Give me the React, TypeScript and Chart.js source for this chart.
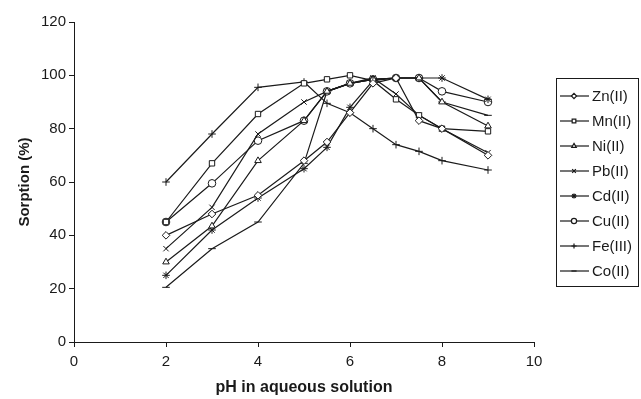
import { useEffect, useRef } from 'react';
import { Chart, registerables } from 'chart.js';
import { drawPoint } from 'chart.js/helpers';
Chart.register(...registerables);

const pH = [2, 3, 4, 5, 5.5, 6, 6.5, 7, 7.5, 8, 9];
const seriesNames = ['Zn(II)', 'Mn(II)', 'Ni(II)', 'Pb(II)', 'Cd(II)', 'Cu(II)', 'Fe(III)', 'Co(II)'];
const znValues = [40, 48, 55, 68, 75, 86, 97, 99, 83, 80, 70];
const mnValues = [45, 67, 85.5, 97, 98.5, 100, 98, 91, 85, 80, 79];
const niValues = [30, 43.5, 68, 83, 94, 97, 98.5, 99, 99, 90, 81];
const pbValues = [35, 50.5, 78, 90, 94, 97, 99, 93, 85, 80, 71];
const cdValues = [25, 42, 54, 65, 73, 88, 98, 99, 99, 99, 91];
const cuValues = [45, 59.5, 75.5, 83, 94, 97, 98.5, 99, 99, 94, 90];
const feValues = [60, 78, 95.5, 97.5, 89.5, 86, 80, 74, 71.5, 68, 64.5];
const coValues = [20.5, 35, 45, 67, 94, 97, 98.5, 99, 99, 90, 85];
const seriesValues = [znValues, mnValues, niValues, pbValues, cdValues, cuValues, feValues, coValues];
const pointStyles = ['rectRot', 'rect', 'triangle', 'crossRot', 'star', 'circle', 'cross', 'line'];
const xTicks = [0, 2, 4, 6, 8, 10];
const yTicks = [0, 20, 40, 60, 80, 100, 120];

const FONT = "'Liberation Sans', Arial, sans-serif";
const INK = '#1a1a1a';

const boxLegend = {
  id: 'boxLegend',
  afterDraw(chart: any) {
    const ctx = chart.ctx;
    const area = chart.chartArea;
    const left = area.right + 22;
    const top = 78;
    const rowH = 25;
    const n = chart.data.datasets.length;
    ctx.save();
    ctx.strokeStyle = INK;
    ctx.lineWidth = 1;
    ctx.strokeRect(Math.round(left) + 0.5, top + 0.5, 82, 18 + rowH * (n - 1) + 15);
    ctx.font = `15px ${FONT}`;
    ctx.textBaseline = 'middle';
    ctx.textAlign = 'left';
    chart.data.datasets.forEach((ds: any, i: number) => {
      const y = top + 18 + i * rowH;
      ctx.strokeStyle = INK;
      ctx.lineWidth = 1.2;
      ctx.beginPath();
      ctx.moveTo(left + 4, y);
      ctx.lineTo(left + 33, y);
      ctx.stroke();
      ctx.fillStyle = '#fff';
      ctx.strokeStyle = INK;
      drawPoint(ctx, { pointStyle: ds.pointStyle, radius: 2.6, borderWidth: 1, rotation: 0 }, left + 18, y);
      ctx.fillStyle = INK;
      ctx.fillText(ds.label, left + 36, y + 1);
    });
    ctx.restore();
  },
};

export default function App() {
  const ref = useRef<HTMLCanvasElement>(null);
  useEffect(() => {
    if (!ref.current) return;
    const datasets = seriesNames.map((name, i) => ({
      label: name,
      data: pH.map((x, j) => ({ x, y: seriesValues[i][j] })),
      borderColor: INK,
      backgroundColor: '#fff',
      borderWidth: 1.2,
      pointStyle: pointStyles[i],
      pointRadius: 3.8,
      pointBorderWidth: 1,
      pointBorderColor: INK,
      pointBackgroundColor: '#fff',
      tension: 0,
    }));
    const chart = new Chart(ref.current, {
      type: 'line',
      data: { datasets },
      plugins: [boxLegend],
      options: {
        animation: false,
        responsive: false,
        devicePixelRatio: 1,
        layout: { padding: { left: 0, top: 22, right: 107, bottom: 0 } },
        plugins: { legend: { display: false }, tooltip: { enabled: false } },
        scales: {
          x: {
            type: 'linear',
            min: 0,
            max: 10,
            afterFit: (s: any) => { s.height = 57; },
            afterBuildTicks: (s: any) => { s.ticks = xTicks.map((v) => ({ value: v })); },
            grid: { drawOnChartArea: false, drawTicks: true, tickLength: 5, color: INK },
            border: { display: true, color: INK, width: 1 },
            ticks: { color: INK, font: { family: FONT, size: 15 }, padding: 6, maxRotation: 0 },
            title: {
              display: true,
              text: 'pH in aqueous solution',
              color: INK,
              font: { family: FONT, size: 16, weight: 'bold' },
              padding: { top: 0, bottom: 2 },
            },
          },
          y: {
            type: 'linear',
            min: 0,
            max: 120,
            afterFit: (s: any) => { s.width = 74; },
            afterBuildTicks: (s: any) => { s.ticks = yTicks.map((v) => ({ value: v })); },
            grid: { drawOnChartArea: false, drawTicks: true, tickLength: 5, color: INK },
            border: { display: true, color: INK, width: 1 },
            ticks: { color: INK, font: { family: FONT, size: 15 }, padding: 3 },
            title: {
              display: true,
              text: 'Sorption (%)',
              color: INK,
              font: { family: FONT, size: 15, weight: 'bold' },
              padding: { top: 16, bottom: 0 },
            },
          },
        },
      } as any,
    });
    return () => chart.destroy();
  }, []);
  return (
    <div style={{ position: 'fixed', left: 0, top: 0, width: 641, height: 399, background: '#fff' }}>
      <canvas ref={ref} width={641} height={399} style={{ width: 641, height: 399, display: 'block' }} />
    </div>
  );
}
